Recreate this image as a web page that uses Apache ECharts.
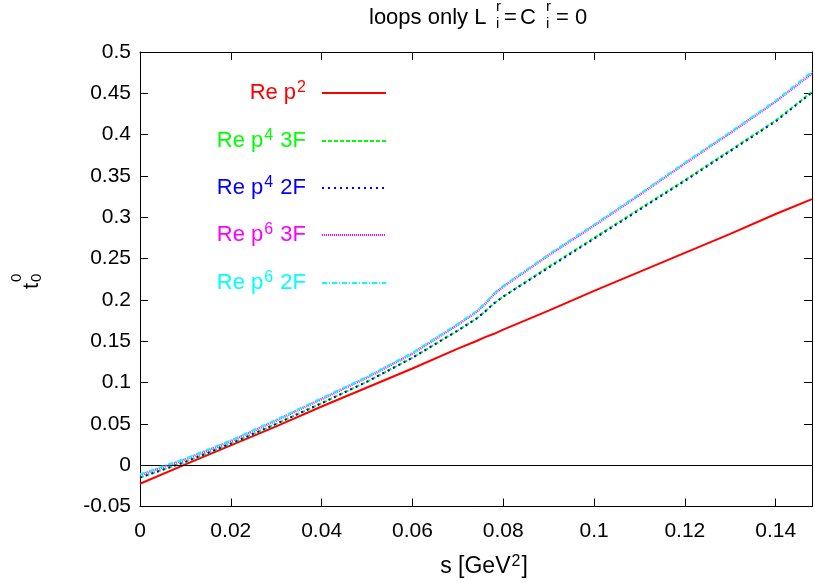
<!DOCTYPE html>
<html><head><meta charset="utf-8">
<script src="https://cdn.jsdelivr.net/npm/echarts/dist/echarts.min.js"></script>
<style>html,body{margin:0;padding:0;background:#fff}#c{width:815px;height:583px}</style>
</head><body><div id="c"></div>
<script>
// ---- data ----
const sValues = [0, 0.01, 0.02, 0.03, 0.04, 0.05, 0.06, 0.07, 0.074, 0.076, 0.078, 0.08, 0.09, 0.10, 0.11, 0.12, 0.13, 0.14, 0.148];
const reP2   = [-0.0225, 0.001, 0.024, 0.047, 0.071, 0.094, 0.117, 0.141, 0.150, 0.155, 0.159, 0.164, 0.187, 0.211, 0.234, 0.257, 0.280, 0.304, 0.322];
const reP4_3F = [-0.015, 0.004, 0.026, 0.050, 0.075, 0.101, 0.130, 0.163, 0.177, 0.186, 0.196, 0.204, 0.240, 0.275, 0.310, 0.345, 0.381, 0.417, 0.452];
const reP4_2F = [-0.015, 0.004, 0.026, 0.050, 0.075, 0.101, 0.130, 0.163, 0.177, 0.186, 0.196, 0.204, 0.239, 0.274, 0.309, 0.344, 0.380, 0.416, 0.451];
const reP6_3F = [-0.012, 0.007, 0.029, 0.054, 0.080, 0.106, 0.135, 0.170, 0.185, 0.195, 0.207, 0.216, 0.254, 0.290, 0.327, 0.365, 0.402, 0.440, 0.474];
const reP6_2F = [-0.011, 0.008, 0.030, 0.055, 0.081, 0.107, 0.136, 0.171, 0.186, 0.196, 0.208, 0.217, 0.255, 0.291, 0.328, 0.366, 0.403, 0.441, 0.476];
const zeroLine = [0];

const seriesNames = ['Re p2', 'Re p4 3F', 'Re p4 2F', 'Re p6 3F', 'Re p6 2F'];
const legendTexts = ['{a|Re p}{se|2}', '{a|Re p}{s|4}{e| 3F}', '{a|Re p}{s|4}{e| 2F}', '{a|Re p}{s|6}{e| 3F}', '{a|Re p}{s|6}{e| 2F}'];
const xTickLabels = ['0', '0.02', '0.04', '0.06', '0.08', '0.1', '0.12', '0.14'];
const yTickLabels = ['-0.05', '0', '0.05', '0.1', '0.15', '0.2', '0.25', '0.3', '0.35', '0.4', '0.45', '0.5'];

// ---- styling ----
const FONT = 'Liberation Sans';
const FT = 21, FL = 22, FSS = 16;
const colors = ['#ff0000', '#00ff00', '#0000ff', '#ff00ff', '#00ffff'];
const dashes = ['solid', [4, 2], [2, 4], [1, 1], [5, 2, 1, 2]];
const widths = [2, 2, 2, 2.5, 2];
const seriesData = [reP2, reP4_3F, reP4_2F, reP6_3F, reP6_2F];
const legendRowTop = [80, 128, 175, 222, 270];

function labelFor(list, v) {
  for (const t of list) if (Math.abs(parseFloat(t) - v) < 1e-9) return t;
  return '';
}
function txt(text, x, y, size) {
  return { type: 'text', x: x, y: y, silent: true, style: { text: text, fontSize: size, fontFamily: FONT, fill: '#000',
    align: 'left', verticalAlign: 'middle', textAlign: 'left', textVerticalAlign: 'middle' } };
}

const chart = echarts.init(document.getElementById('c'), null, { renderer: 'canvas' });

const axisCommon = {
  type: 'value',
  axisLine: { show: true, onZero: false, lineStyle: { color: '#000', width: 1 } },
  axisTick: { show: true, inside: true, length: 8, lineStyle: { color: '#000', width: 1 } },
  splitLine: { show: false }
};

const option = {
  animation: false,
  backgroundColor: '#fff',
  grid: { left: 140, right: 1, top: 52, bottom: 75, containLabel: false },
  xAxis: [
    Object.assign({}, axisCommon, {
      position: 'bottom', min: 0, max: 0.148, interval: 0.02,
      axisLabel: { color: '#000', fontFamily: FONT, fontSize: FT, margin: 14,
        formatter: v => labelFor(xTickLabels, v) },
      name: '{a|s [GeV}{s|2}{a|]}', nameLocation: 'middle', nameGap: 47,
      nameTextStyle: { color: '#000', fontFamily: FONT, fontSize: 23, padding: [0, 0, 0, 16], rich: {
        a: { fontFamily: FONT, fontSize: 23, lineHeight: 26, color: '#000' },
        s: { fontFamily: FONT, fontSize: FSS, lineHeight: 26, verticalAlign: 'top', color: '#000', padding: [0, 1, 0, 1] } } }
    }),
    Object.assign({}, axisCommon, {
      position: 'top', min: 0, max: 0.148, interval: 0.02, axisLabel: { show: false }
    })
  ],
  yAxis: [
    Object.assign({}, axisCommon, {
      position: 'left', min: -0.05, max: 0.5, interval: 0.05,
      axisLabel: { color: '#000', fontFamily: FONT, fontSize: FT, margin: 9,
        formatter: v => labelFor(yTickLabels, v) }
    }),
    Object.assign({}, axisCommon, {
      position: 'right', min: -0.05, max: 0.5, interval: 0.05, axisLabel: { show: false }
    })
  ],
  legend: seriesNames.map((n, i) => ({
    data: [n], orient: 'vertical', right: 428, top: legendRowTop[i], align: 'right',
    itemWidth: 64, itemHeight: 14, padding: 0, selectedMode: false,
    itemStyle: { opacity: 0, borderWidth: 0 },
    formatter: () => legendTexts[i],
    textStyle: { color: colors[i], fontFamily: FONT, fontSize: FL, rich: {
      a: { fontFamily: FONT, fontSize: FL, lineHeight: 26, color: colors[i] },
      e: { fontFamily: FONT, fontSize: FL, lineHeight: 26, color: colors[i], padding: [0, 11, 0, 0] },
      s: { fontFamily: FONT, fontSize: FSS, lineHeight: 26, verticalAlign: 'top', color: colors[i], padding: [0, 1, 0, 1] },
      se: { fontFamily: FONT, fontSize: FSS, lineHeight: 26, verticalAlign: 'top', color: colors[i], padding: [0, 11, 0, 1] }
    } }
  })),
  series: seriesNames.map((n, i) => {
    const s = {
      name: n, type: 'line', xAxisIndex: 0, yAxisIndex: 0,
      data: sValues.map((x, k) => [x, seriesData[i][k]]),
      symbol: 'none', showSymbol: false, smooth: false,
      color: colors[i],
      lineStyle: { color: colors[i], width: widths[i], type: dashes[i] },
      emphasis: { disabled: true }, silent: true, z: 2 + i
    };
    if (i === 0) {
      s.markLine = { silent: true, symbol: 'none', label: { show: false },
        lineStyle: { color: '#000', width: 1, type: 'solid' },
        data: zeroLine.map(v => ({ yAxis: v })) };
    }
    return s;
  }),
  graphic: [
    txt('loops only L', 369, 17.5, FL),
    txt('r', 496, 6.5, 15),
    txt('i', 496, 23.5, 15),
    txt('=', 504, 17.5, FL),
    txt('C', 520, 17.5, FL),
    txt('r', 546, 6.5, 15),
    txt('i', 546, 23.5, 15),
    txt('=', 556, 17.5, FL),
    txt('0', 575, 17.5, FL),
    { type: 'group', x: 39, y: 289, rotation: Math.PI / 2, children: [
      txt('t', 0, -7.5, FL),
      txt('0', 7, -22, 15),
      txt('0', 7, -2, 15)
    ] }
  ]
};
chart.setOption(option);
</script>
</body></html>
